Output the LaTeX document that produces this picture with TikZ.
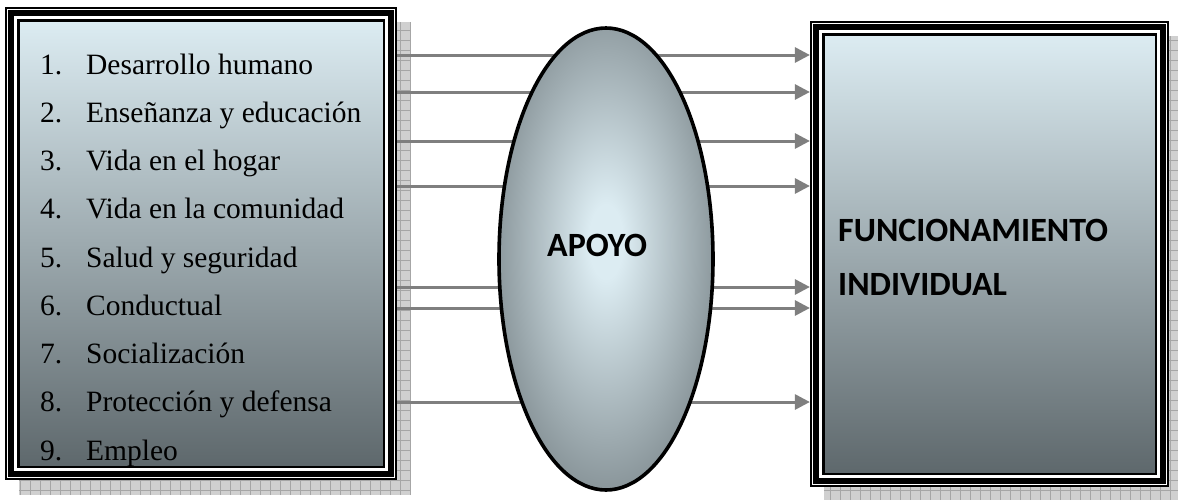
\documentclass[tikz,border=0pt]{standalone}
\usepackage{fontspec}
\setmainfont{Liberation Serif}
\newfontfamily\labelsans{Carlito}
\usetikzlibrary{arrows.meta,shapes.geometric,backgrounds}

\definecolor{paleblue}{HTML}{DCECF2}
\definecolor{slate}{HTML}{5E686C}
\definecolor{linkgray}{HTML}{7F7F7F}
\definecolor{shadowgray}{HTML}{D0D0D0}
\definecolor{gridgray}{HTML}{A6A6A6}

% radial glow for the support ellipse
\pgfdeclareradialshading{apoyoglow}{\pgfpoint{0bp}{2bp}}{%
  color(0bp)=(paleblue); color(4bp)=(paleblue);
  color(38bp)=(slate); color(70bp)=(slate)}

\tikzset{
  framebox/.style={rectangle, draw=black, fill=white, line width=2.2pt,
    inner sep=0pt},
  thickband/.style={draw=black, line width=6pt},
  innerpanel/.style={draw=black, line width=2.2pt, top color=paleblue,
    bottom color=slate},
  shadowfill/.style={fill=shadowgray},
  shadowgrid/.style={draw=gridgray, line width=0.7pt},
  conn/.style={draw=linkgray, line width=3pt,
    -{Triangle[length=15pt,width=15pt]}},
  item/.style={anchor=base west, inner sep=0pt, font=\fontsize{29.5}{34}\selectfont},
  headline/.style={anchor=base west, inner sep=0pt,
    font=\labelsans\bfseries\fontsize{34}{40}\selectfont},
}

\begin{document}
\begin{tikzpicture}[x=1pt, y=-1pt]
\useasboundingbox (0,0) rectangle (1178,499);

% left list box
\node[framebox, minimum width=390pt, minimum height=471pt] (lbox) at (201,243.5) {};
\draw[thickband] ([shift={(6.5,6.5)}]lbox.north west) rectangle ([shift={(-6.5,-6.5)}]lbox.south east);
\path[innerpanel] ([shift={(13.5,13.5)}]lbox.north west) rectangle ([shift={(-13.5,-13.5)}]lbox.south east);

% right result box
\node[framebox, minimum width=357pt, minimum height=464pt] (rbox) at (989.5,254) {};
\draw[thickband] ([shift={(6.5,6.5)}]rbox.north west) rectangle ([shift={(-6.5,-6.5)}]rbox.south east);
\path[innerpanel] ([shift={(13.5,13.5)}]rbox.north west) rectangle ([shift={(-13.5,-13.5)}]rbox.south east);

% support ellipse
\node[ellipse, minimum width=214pt, minimum height=462pt, inner sep=0pt,
  draw=black, line width=3.6pt, shade, shading=apoyoglow] (apoyo) at (606,259) {};

% list entries
\foreach \n/\txt [count=\i from 0] in {1/Desarrollo humano, 2/Enseñanza y educación,
  3/Vida en el hogar, 4/Vida en la comunidad, 5/Salud y seguridad, 6/Conductual,
  7/Socialización, 8/Protección y defensa, 9/Empleo}{
  \node[item] (num\n) at (40,74+48.25*\i) {\n.};
  \node[item] (txt\n) at (86,74+48.25*\i) {\txt};
}

% labels
\node[headline] (apoyotxt) at (547,256) {APOYO};
\node[headline] (func) at (838,241) {FUNCIONAMIENTO};
\node[headline] (indiv) at (838,295) {INDIVIDUAL};

% connectors and drop shadows behind everything
\begin{scope}[on background layer]
  \path[shadowfill] ([shift={(14,15)}]lbox.north west) rectangle ([shift={(14,15)}]lbox.south east);
  \draw[shadowgrid, step=10pt] ([shift={(14,15)}]lbox.north west) grid ([shift={(14,15)}]lbox.south east);
  \path[shadowfill] ([shift={(14,15)}]rbox.north west) rectangle ([shift={(14,15)}]rbox.south east);
  \draw[shadowgrid, step=10pt] ([shift={(14,15)}]rbox.north west) grid ([shift={(14,15)}]rbox.south east);
  \foreach \yy in {55,92,141,186,287,308,402}{
    \draw[conn] (lbox.east |- 0,\yy) -- (rbox.west |- 0,\yy);
  }
\end{scope}
\end{tikzpicture}
\end{document}
